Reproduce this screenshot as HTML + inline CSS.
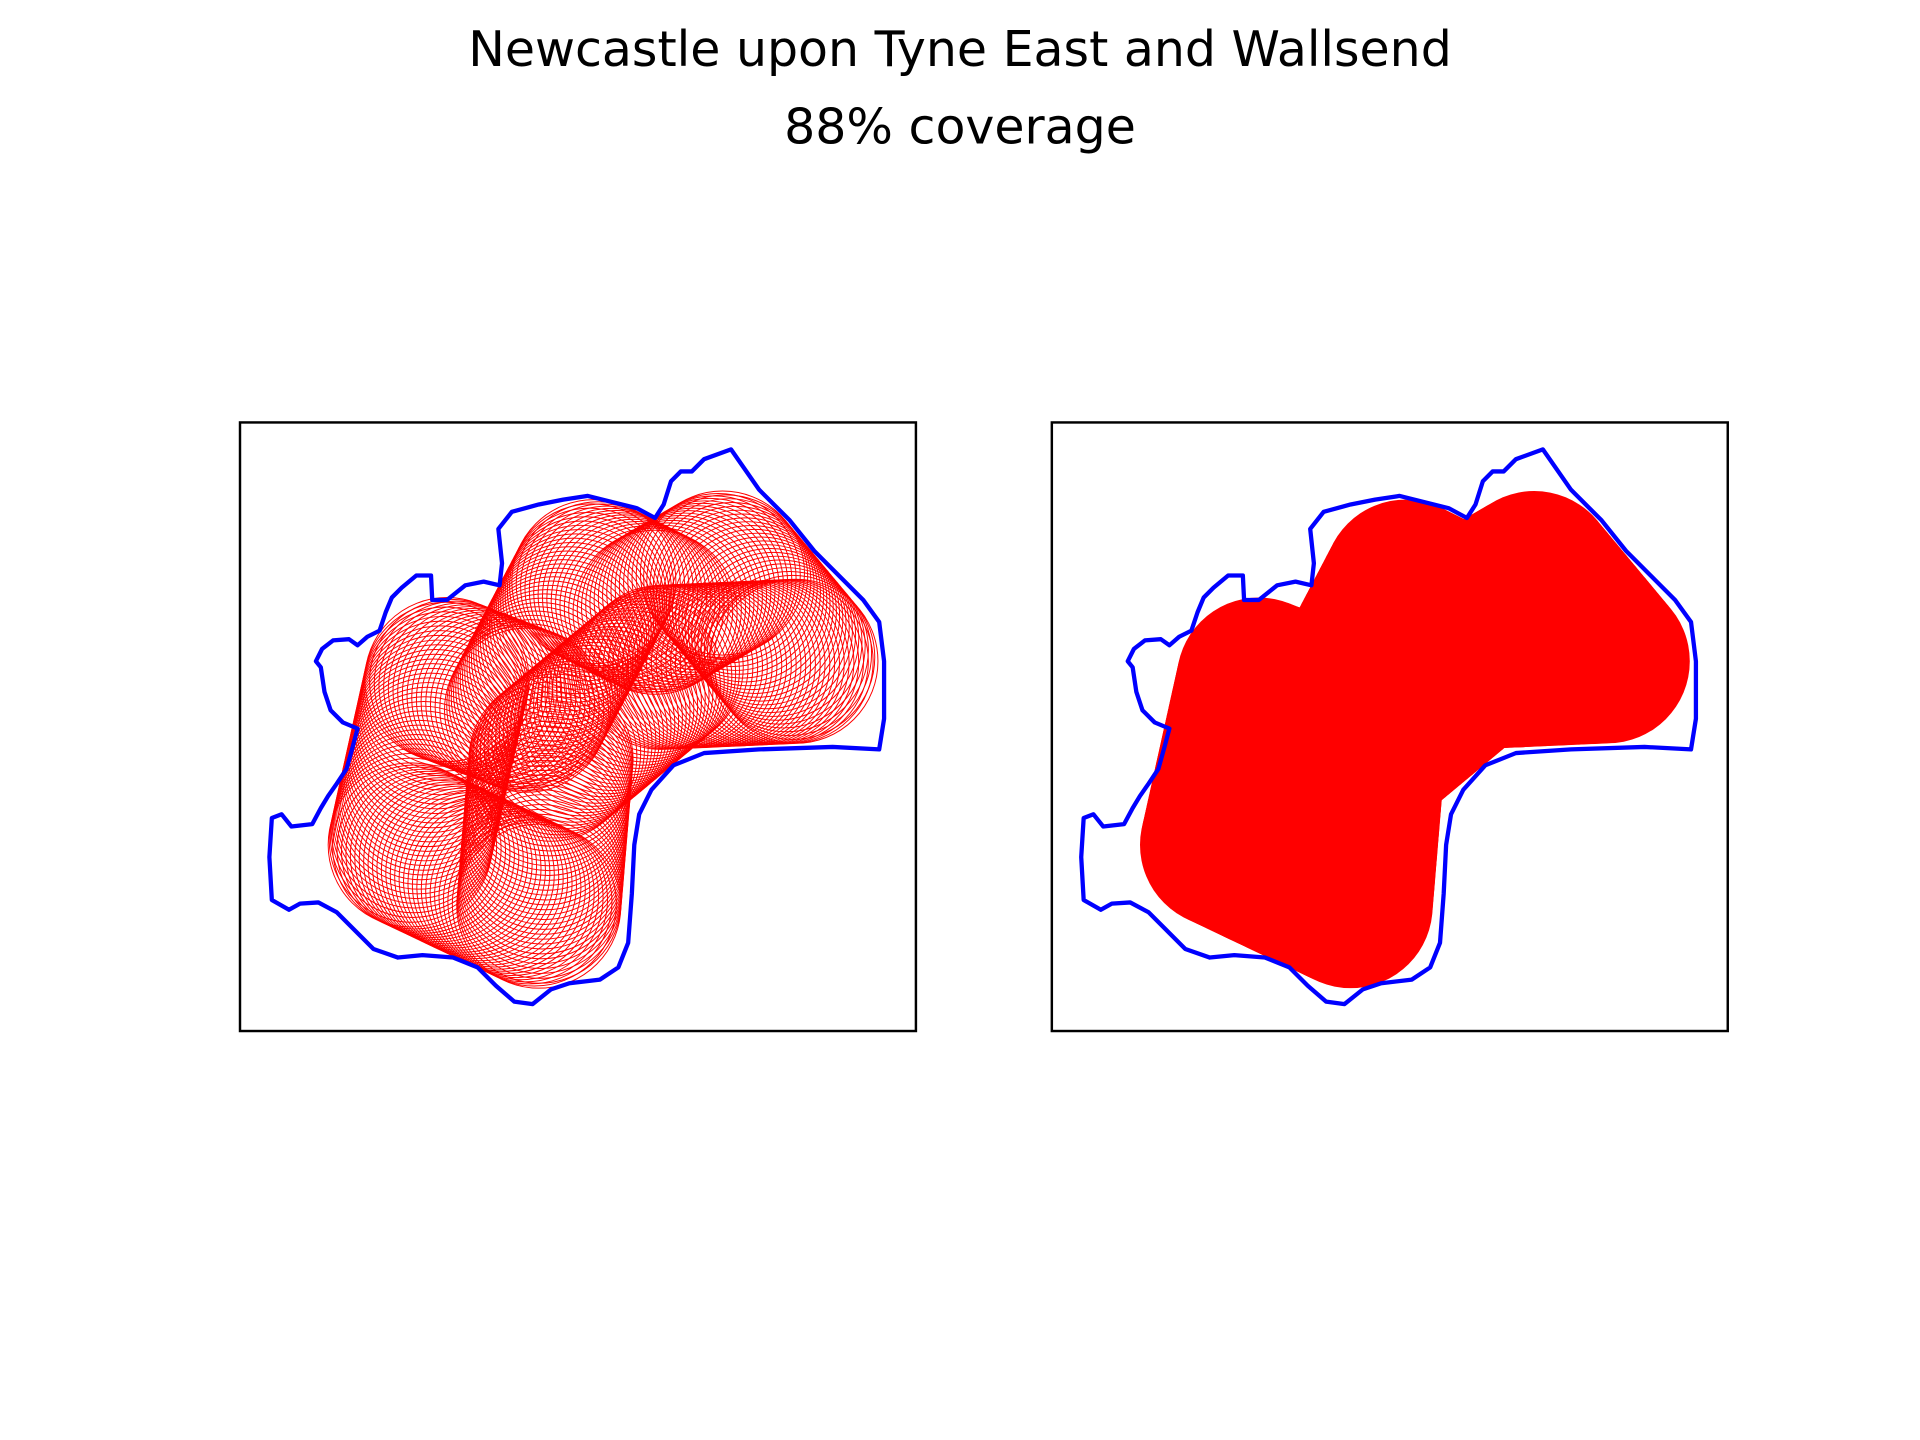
<!DOCTYPE html>
<html><head><meta charset="utf-8"><style>
html,body{margin:0;padding:0;background:#fff;width:1920px;height:1440px;overflow:hidden}
text{font-family:"DejaVu Sans","Liberation Sans",sans-serif}
</style></head><body>
<svg id="fig" width="1920" height="1440" viewBox="0 0 1568 1176" xmlns="http://www.w3.org/2000/svg">
<text x="784" y="54" text-anchor="middle" font-size="40">Newcastle upon Tyne East and Wallsend</text>
<text x="784" y="117" text-anchor="middle" font-size="40">88% coverage</text>
<defs>
<clipPath id="c1"><rect x="196" y="345" width="552" height="497"/></clipPath>
<clipPath id="c2"><rect x="859" y="345" width="552" height="497"/></clipPath>
</defs>
<g id="left" clip-path="url(#c1)"></g>
<g id="right" clip-path="url(#c2)"></g>
<rect x="196" y="345" width="552" height="497" fill="none" stroke="#000" stroke-width="2"/>
<rect x="859" y="345" width="552" height="497" fill="none" stroke="#000" stroke-width="2"/>
</svg>
<script>
const boundary=[[236,743],[222,735],[220,700],[222,668],[230,665],[238,675],[255,673],[262,660],[268,650],[275,640],[283,628],[288,610],[292,595],[280,590],[270,580],[265,565],[262,545],[258,540],[263,530],[272,523],[285,522],[292,527],[300,520],[310,515],[315,500],[320,488],[328,480],[340,470],[352,470],[353,490],[365,490],[380,478],[395,475],[408,478],[410,460],[407,432],[418,418],[440,412],[460,408],[480,405],[500,410],[520,415],[535,423],[542,412],[548,393],[556,385],[565,385],[575,375],[597,367],[620,400],[645,425],[665,450],[685,470],[705,490],[718,508],[722,540],[722,587],[718,612],[680,610],[620,612],[575,615],[550,625],[532,645],[522,665],[518,690],[516,730],[513,770],[505,790],[490,800],[465,803],[450,808],[435,820],[420,818],[405,805],[390,790],[370,782],[345,780],[325,782],[305,775],[290,760],[275,745],[260,737],[245,738]];
const centerPathX=[440,335,365,430,485,535,590,650,540,450,440];
const centerPathY=[740,690,555,580,475,500,468,540,545,620,740];
const radius=67;
const NS="http://www.w3.org/2000/svg";
function draw(gid,dx,filled){
  const g=document.getElementById(gid);
  for(let i=0;i<centerPathX.length-1;i++){
    const x0=centerPathX[i],y0=centerPathY[i],x1=centerPathX[i+1],y1=centerPathY[i+1];
    const n=Math.max(1,Math.round(Math.hypot(x1-x0,y1-y0)/4));
    for(let k=0;k<n;k++){
      const t=k/n;
      const c=document.createElementNS(NS,"circle");
      
      
      c.setAttribute("cx",x0+(x1-x0)*t+dx);c.setAttribute("cy",y0+(y1-y0)*t);c.setAttribute("r",radius);
      if(filled){c.setAttribute("fill","#ff0000");}
      else{c.setAttribute("fill","none");c.setAttribute("stroke","#ff0000");c.setAttribute("stroke-width","0.8");}
      g.appendChild(c);
    }
  }
  const p=document.createElementNS(NS,"polygon");
  
  
  p.setAttribute("points",boundary.map(q=>(q[0]+dx)+","+q[1]).join(" "));
  p.setAttribute("fill","none");p.setAttribute("stroke","#0000ff");p.setAttribute("stroke-width","3.5");p.setAttribute("stroke-linejoin","round");
  g.appendChild(p);
}
draw("left",0,false);
draw("right",663,true);
</script>
</body></html>
